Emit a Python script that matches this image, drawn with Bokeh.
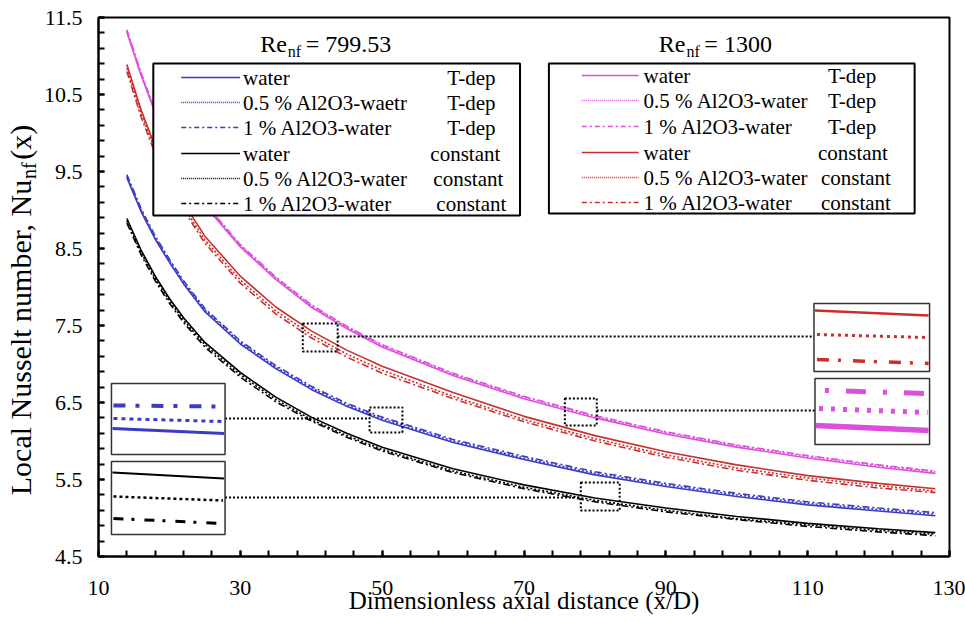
import math
import numpy as np
from bokeh.plotting import figure
from bokeh.layouts import row
from bokeh.models import Range1d, FixedTicker, Label
from bokeh.embed import file_html
from bokeh.resources import INLINE

# ---------------- data ----------------
x_nd = [14, 16, 18, 20, 22, 25, 30, 35, 40, 45, 50, 60, 70, 80, 90, 100, 110, 120, 128]

# Re_nf = 799.53, temperature-dependent properties
re800_tdep_water = [9.42, 8.98, 8.62, 8.32, 8.04, 7.68, 7.26, 6.94, 6.67, 6.45, 6.27, 5.98, 5.76, 5.56, 5.41, 5.28, 5.17, 5.09, 5.03]
re800_tdep_al05 = [9.44, 9.00, 8.64, 8.34, 8.06, 7.70, 7.28, 6.96, 6.69, 6.47, 6.29, 6.00, 5.78, 5.58, 5.43, 5.30, 5.19, 5.11, 5.05]
re800_tdep_al1 = [9.46, 9.02, 8.66, 8.36, 8.08, 7.72, 7.30, 6.98, 6.71, 6.49, 6.31, 6.02, 5.80, 5.60, 5.45, 5.32, 5.21, 5.13, 5.07]
# Re_nf = 799.53, constant properties
re800_const_water = [8.89, 8.48, 8.14, 7.85, 7.60, 7.28, 6.89, 6.57, 6.31, 6.10, 5.92, 5.64, 5.43, 5.26, 5.13, 5.02, 4.93, 4.86, 4.81]
re800_const_al05 = [8.86, 8.45, 8.11, 7.82, 7.57, 7.25, 6.86, 6.54, 6.28, 6.07, 5.89, 5.61, 5.40, 5.23, 5.10, 4.99, 4.91, 4.84, 4.79]
re800_const_al1 = [8.83, 8.42, 8.08, 7.79, 7.54, 7.22, 6.83, 6.51, 6.26, 6.05, 5.87, 5.59, 5.38, 5.21, 5.08, 4.98, 4.89, 4.82, 4.77]
# Re_nf = 1300, temperature-dependent properties
re1300_tdep_water = [11.31, 10.75, 10.26, 9.85, 9.50, 9.06, 8.52, 8.10, 7.74, 7.46, 7.22, 6.85, 6.55, 6.30, 6.09, 5.92, 5.78, 5.66, 5.58]
re1300_tdep_al05 = [11.33, 10.77, 10.28, 9.87, 9.52, 9.08, 8.54, 8.12, 7.76, 7.48, 7.24, 6.87, 6.57, 6.32, 6.11, 5.94, 5.80, 5.68, 5.60]
re1300_tdep_al1 = [11.34, 10.78, 10.29, 9.88, 9.53, 9.09, 8.55, 8.13, 7.77, 7.49, 7.25, 6.88, 6.58, 6.33, 6.12, 5.95, 5.81, 5.69, 5.61]
# Re_nf = 1300, constant properties
re1300_const_water = [10.89, 10.30, 9.82, 9.42, 9.09, 8.66, 8.14, 7.74, 7.43, 7.18, 6.97, 6.63, 6.32, 6.07, 5.86, 5.69, 5.55, 5.45, 5.38]
re1300_const_al05 = [10.84, 10.25, 9.77, 9.37, 9.04, 8.61, 8.09, 7.69, 7.38, 7.13, 6.92, 6.58, 6.28, 6.03, 5.82, 5.65, 5.52, 5.42, 5.35]
re1300_const_al1 = [10.80, 10.21, 9.73, 9.33, 9.00, 8.57, 8.05, 7.65, 7.34, 7.09, 6.88, 6.55, 6.25, 6.00, 5.79, 5.62, 5.49, 5.39, 5.33]

x_tick_values = [10, 30, 50, 70, 90, 110, 130]
y_tick_values = [4.5, 5.5, 6.5, 7.5, 8.5, 9.5, 10.5, 11.5]

legend_left_names = ["water", "0.5 % Al2O3-waetr", "1 % Al2O3-water",
                     "water", "0.5 % Al2O3-water", "1 % Al2O3-water"]
legend_right_names = ["water", "0.5 % Al2O3-water", "1 % Al2O3-water",
                      "water", "0.5 % Al2O3-water", "1 % Al2O3-water"]
legend_cond = ["T-dep", "T-dep", "T-dep", "constant", "constant", "constant"]

title_left = "= 799.53"
title_right = "= 1300"
x_title = "Dimensionless axial distance (x/D)"

# ---------------- styling ----------------
FONT = "Liberation Serif"
BLUE = "#3b3bc6"
BLACK = "#000000"
RED = "#cc2e2e"
MAGENTA = "#dc4edc"
SOLID, DOT, DASHDOT = "solid", "2 2", "7 3 2 3"

W, H = 965, 621
LW = 40                               # width of the strip holding the y title
FL, FR, FT, FB = 95, 949, 17, 556     # frame edges in page pixels
X0, X1, Y0, Y1 = 10, 130, 4.5, 11.5

def px_x(px):
    return X0 + (px - FL) * (X1 - X0) / (FR - FL)

def px_y(py):
    return Y0 + (FB - py) * (Y1 - Y0) / (FB - FT)

p = figure(width=W - LW, height=H, output_backend="svg", toolbar_location=None,
           x_range=Range1d(X0, X1), y_range=Range1d(Y0, Y1),
           min_border_left=FL - LW, min_border_right=W - FR,
           min_border_top=FT, min_border_bottom=H - FB)
p.xgrid.visible = False
p.ygrid.visible = False
p.outline_line_color = "black"
p.outline_line_width = 2

p.xaxis.ticker = FixedTicker(ticks=x_tick_values,
                             minor_ticks=[float(v) for v in np.arange(10, 130.01, 4)])
p.yaxis.ticker = FixedTicker(ticks=y_tick_values,
                             minor_ticks=[round(float(v), 2) for v in np.arange(4.5, 11.51, 0.2)])
for ax in (p.xaxis[0], p.yaxis[0]):
    ax.axis_line_width = 2
    ax.axis_line_color = "black"
    ax.major_tick_in = 6
    ax.major_tick_out = 0
    ax.minor_tick_in = 6
    ax.minor_tick_out = 0
    ax.major_tick_line_width = 2
    ax.minor_tick_line_width = 2
    ax.major_tick_line_color = "black"
    ax.minor_tick_line_color = "black"
    ax.major_label_text_font = FONT
    ax.major_label_text_color = "black"
    ax.major_label_text_font_size = "22px"

p.yaxis.major_label_standoff = 16
p.xaxis.major_label_standoff = 24
p.yaxis.axis_label = None
p.xaxis.axis_label = x_title
p.xaxis.axis_label_text_font = FONT
p.xaxis.axis_label_text_font_size = "25px"
p.xaxis.axis_label_text_font_style = "normal"
p.xaxis.axis_label_text_color = "black"
p.xaxis.axis_label_standoff = -11

# ---------------- curves ----------------
series = [
    (re800_tdep_water, BLUE, SOLID), (re800_tdep_al05, BLUE, DOT), (re800_tdep_al1, BLUE, DASHDOT),
    (re800_const_water, BLACK, SOLID), (re800_const_al05, BLACK, DOT), (re800_const_al1, BLACK, DASHDOT),
    (re1300_tdep_water, MAGENTA, SOLID), (re1300_tdep_al05, MAGENTA, DOT), (re1300_tdep_al1, MAGENTA, DASHDOT),
    (re1300_const_water, RED, SOLID), (re1300_const_al05, RED, DOT), (re1300_const_al1, RED, DASHDOT),
]
for ys, col, dash in series:
    p.line(x_nd, ys, line_color=col, line_width=1.6, line_dash=dash)

# ---------------- helpers for decorations (page pixel positions) ----------------
def pline(x0, y0, x1, y1, color, width, dash, level="glyph"):
    p.line([px_x(x0), px_x(x1)], [px_y(y0), px_y(y1)], line_color=color,
           line_width=width, line_dash=dash, level=level)

def pbox(l, t, r, b, fill, lcol, lw, dash="solid", level="glyph"):
    p.quad(left=px_x(l), right=px_x(r), top=px_y(t), bottom=px_y(b),
           fill_color=fill, line_color=lcol, line_width=lw, line_dash=dash, level=level)

def add_text(px, py, text, size="21px", align="left", baseline="middle"):
    p.add_layout(Label(x=px_x(px), y=px_y(py), text=text, text_font=FONT,
                       text_font_size=size, text_color="black", text_align=align,
                       text_baseline=baseline, level="overlay"))

# ---------------- zoom markers (dotted boxes + connectors) ----------------
ZD = "2 2"
pbox(367, 407, 400, 432, None, "black", 2, ZD)
pbox(579, 482, 618, 510, None, "black", 2, ZD)
pbox(300, 323, 335, 351, None, "black", 2, ZD)
pbox(563, 398, 595, 425, None, "black", 2, ZD)
pline(222, 418, 367, 418, "black", 2, ZD)
pline(222, 497, 579, 497, "black", 2, ZD)
pline(335, 336, 813, 336, "black", 2, ZD)
pline(595, 410, 814, 410, "black", 2, ZD)

# ---------------- magnified insets ----------------
pbox(108, 383, 222, 454, "white", "#333333", 1.5, level="annotation")
pbox(108, 461, 222, 534, "white", "#333333", 1.5, level="annotation")
pbox(813, 303, 929, 371, "white", "#333333", 1.5, level="annotation")
pbox(814, 378, 929, 444, "white", "#333333", 1.5, level="annotation")

pline(110, 405, 220, 406, BLUE, 4, "12 10 4 12", "overlay")
pline(110, 418, 220, 421, BLUE, 3, "4 4", "overlay")
pline(109, 428, 221, 433, BLUE, 3, "solid", "overlay")

pline(109, 472, 221, 478, BLACK, 2, "solid", "overlay")
pline(110, 496, 220, 500, BLACK, 2.5, "3 3", "overlay")
pline(110, 518, 220, 523, BLACK, 3, "10 8 3 10", "overlay")

pline(814, 310, 928, 315, RED, 2.5, "solid", "overlay")
pline(816, 334, 927, 337, RED, 3, "3 4", "overlay")
pline(816, 359, 928, 363, RED, 3.5, "12 9 3 12", "overlay")

pline(824, 390, 927, 393, MAGENTA, 5, "4 17 20 17", "overlay")
pline(818, 408, 927, 412, MAGENTA, 5, "4 8", "overlay")
pline(815, 425, 928, 430, MAGENTA, 5.5, "solid", "overlay")

# ---------------- legends ----------------
pbox(150, 63, 518, 215, "white", "black", 2, level="annotation")
pbox(547, 63, 914, 213, "white", "black", 2, level="annotation")

LEG_DASH = ["solid", "1 1", "5 3 2 3"]

left_rows = [77, 102, 127, 153, 178, 203]
left_cond_x = [445, 445, 445, 428, 431, 434]
for i, yy in enumerate(left_rows):
    col = BLUE if i < 3 else BLACK
    pline(178, yy, 237, yy, col, 1.6, LEG_DASH[i % 3], "overlay")
    add_text(240, yy, legend_left_names[i])
    add_text(left_cond_x[i], yy, legend_cond[i])

right_rows = [75, 100, 126, 152, 177, 202]
right_cond_x = [827, 827, 827, 817, 820, 820]
for i, yy in enumerate(right_rows):
    col = MAGENTA if i < 3 else RED
    pline(580, yy, 637, yy, col, 1.6, LEG_DASH[i % 3], "overlay")
    add_text(642, yy, legend_right_names[i])
    add_text(right_cond_x[i], yy, legend_cond[i])

# ---------------- titles ----------------
add_text(284, 43, "Re", size="24px", align="right")
add_text(285, 51, "nf", size="16px")
add_text(303, 43, title_left, size="24px")
add_text(684, 43, "Re", size="24px", align="right")
add_text(685, 51, "nf", size="16px")
add_text(703, 43, title_right, size="24px")

# ---------------- y title strip ----------------
yt = figure(width=LW, height=H, output_backend="svg", toolbar_location=None,
            x_range=Range1d(0, LW), y_range=Range1d(0, H),
            x_axis_location=None, y_axis_location=None, min_border=0)
yt.xgrid.visible = False
yt.ygrid.visible = False
yt.outline_line_color = None

def ytext(px, py, text, size, align):
    yt.add_layout(Label(x=px, y=H - py, text=text, text_font=FONT, text_font_size=size,
                        text_color="black", text_align=align, text_baseline="middle",
                        angle=math.pi / 2))

ytext(20, 187, "Local Nusselt number, Nu", "30px", "right")
ytext(28, 186, "nf", "20px", "left")
ytext(20, 164, "(x)", "30px", "left")

layout = row(yt, p)
open("out.html", "w").write(file_html(layout, INLINE))
